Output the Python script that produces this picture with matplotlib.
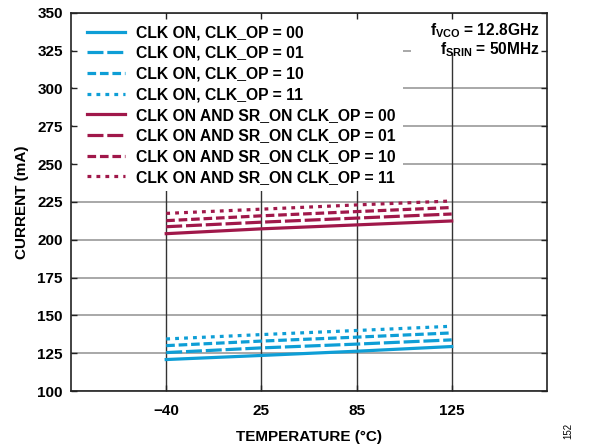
import matplotlib
matplotlib.use("Agg")
import matplotlib.pyplot as plt
from matplotlib.patches import Rectangle

plt.rcParams['font.family'] = ['Liberation Sans', 'DejaVu Sans']

temps = ["\u221240", "25", "85", "125"]
clk_00 = [120.8, 123.5, 126.3, 129.4]
clk_01 = [125.4, 128.5, 131.0, 133.8]
clk_10 = [130.0, 133.0, 135.6, 138.4]
clk_11 = [134.4, 137.3, 140.0, 142.8]
sr_00 = [204.0, 207.2, 209.8, 212.4]
sr_01 = [208.6, 211.6, 214.3, 217.0]
sr_10 = [212.6, 215.8, 218.6, 221.3]
sr_11 = [217.4, 220.2, 223.0, 225.6]
yticks = list(range(100, 351, 25))

labels = ["CLK ON, CLK_OP = 00", "CLK ON, CLK_OP = 01", "CLK ON, CLK_OP = 10", "CLK ON, CLK_OP = 11",
          "CLK ON AND SR_ON CLK_OP = 00", "CLK ON AND SR_ON CLK_OP = 01",
          "CLK ON AND SR_ON CLK_OP = 10", "CLK ON AND SR_ON CLK_OP = 11"]

blue = '#0E9ED6'
red = '#A0184A'
styles = ['-', (0, (5, 1.2)), (0, (2.7, 1.2)), (0, (1.2, 1.6))]

fig = plt.figure(figsize=(5.97, 4.46), dpi=100)
ax = fig.add_axes([0.119, 0.1233, 0.797, 0.848])
x = list(range(len(temps)))

# grid drawn manually beneath everything
for yv in yticks:
    ax.axhline(yv, color='#999999', lw=1.2, zorder=0.5)
for xv in x:
    ax.axvline(xv, color='#333333', lw=1.0, zorder=0.5)

# white areas behind legend and annotation
ax.add_patch(Rectangle((0.004, 0.53), 0.693, 0.468, transform=ax.transAxes,
                       facecolor='white', edgecolor='none', zorder=1))
ax.add_patch(Rectangle((0.715, 0.895), 0.283, 0.103, transform=ax.transAxes,
                       facecolor='white', edgecolor='none', zorder=1))

series = [clk_00, clk_01, clk_10, clk_11, sr_00, sr_01, sr_10, sr_11]
for i, (s, lab) in enumerate(zip(series, labels)):
    ax.plot(x, s, color=blue if i < 4 else red, linestyle=styles[i % 4], lw=2.3, label=lab, zorder=3)

ax.set_xlim(-1, 4)
ax.set_ylim(100, 350)
ax.set_xticks(x)
ax.set_xticklabels(temps, fontweight='bold', fontsize=11)
ax.set_yticks(yticks)
ax.set_yticklabels([str(v) for v in yticks], fontweight='bold', fontsize=11)
ax.tick_params(axis='both', direction='in', length=4, width=1.0, color='#222222', pad=6,
               top=True, right=True)
ax.tick_params(axis='x', pad=9)
for sp in ax.spines.values():
    sp.set_linewidth(1.2)
    sp.set_color('#222222')
    sp.set_zorder(4)

ax.set_xlabel("TEMPERATURE (\u00b0C)", fontweight='bold', fontsize=11, labelpad=9)
ax.set_ylabel("CURRENT (mA)", fontweight='bold', fontsize=11, labelpad=6)

leg = ax.legend(loc='upper left', bbox_to_anchor=(0.033, 0.967), frameon=False,
                prop={'weight': 'bold', 'size': 11.3}, handlelength=2.45, handletextpad=0.7,
                labelspacing=0.36, borderaxespad=0.0, borderpad=0.0)
leg.set_zorder(5)

ax.text(0.985, 0.978, "f$_\\mathregular{VCO}$ = 12.8GHz\nf$_\\mathregular{SRIN}$ = 50MHz",
        transform=ax.transAxes, ha='right', va='top', fontsize=11.2, fontweight='bold',
        linespacing=1.0, zorder=5)

fig.text(0.952, 0.015, "152", rotation=90, fontsize=7, ha='center', va='bottom')

fig.savefig("out.png", dpi=100)
